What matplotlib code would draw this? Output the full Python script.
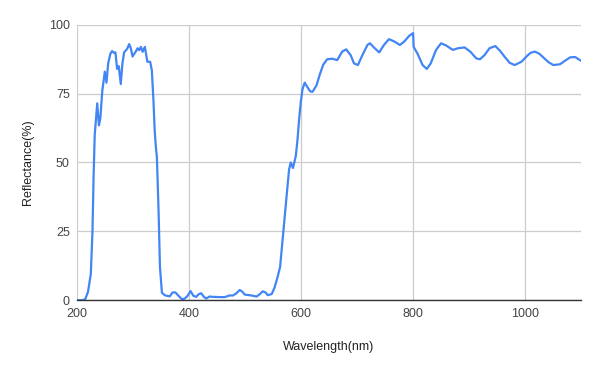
import matplotlib
matplotlib.use("Agg")
import matplotlib.pyplot as plt

plt.rcParams['font.family'] = ['Liberation Sans', 'DejaVu Sans']

# wavelength (nm) and reflectance (%)
wavelength = [200, 210, 215, 220, 225, 228, 230, 232, 234, 236.5, 239.5, 242, 245.5,
              250, 253, 256, 260, 263, 266.5, 269, 272, 275, 278.5, 281.5, 284.5,
              290, 293.5, 296.5, 299.5, 305, 308.5, 311.5, 314.5, 317.5, 321.5,
              326, 331, 334, 337, 339, 341, 343, 346, 348.5, 352, 357, 362, 366,
              371, 376, 382, 388, 393, 398, 403, 408, 413, 418, 422, 427, 431,
              437, 443, 455, 464, 473, 479, 485, 491, 496, 500, 512, 521, 527,
              532, 537, 541, 548, 553, 558, 563, 568, 574.5, 579, 582, 586, 591,
              594, 597, 600, 603, 607, 613, 617, 621, 628, 634, 640, 647, 656,
              665, 674, 681, 689, 695, 702, 710, 719, 723.5, 731, 740, 748.5,
              757.5, 766.5, 777, 785, 793.5, 800.5, 801.5, 808.5, 817.5, 825,
              832, 841.5, 850.5, 859.5, 871.5, 880.5, 892.5, 903, 913.5, 920,
              928, 937, 947.5, 956, 964, 973, 982, 994, 1003, 1010, 1018, 1026,
              1033, 1042, 1051, 1063, 1072, 1081, 1090, 1100]
reflectance = [0, 0, 0.3, 3, 9.5, 25, 45, 60, 65, 71.5, 63.5, 66, 76,
               83, 79, 86, 89.5, 90.5, 89.8, 90, 84, 85, 78.5, 86, 90,
               91.3, 93, 91.5, 88.5, 90.2, 91.5, 90.8, 92, 90.2, 92,
               86.6, 86.6, 83.5, 72, 62, 56, 52, 32.5, 12, 2.7, 1.8, 1.5, 1.4,
               2.8, 2.8, 1.5, 0.3, 0.6, 1.6, 3.3, 1.6, 1.2, 2.2, 2.5, 1.2, 0.6,
               1.3, 1.2, 1.1, 1.1, 1.7, 1.7, 2.5, 3.7, 3, 2, 1.7, 1.3, 2.2,
               3.2, 2.8, 1.8, 2.2, 4.5, 8, 12, 23, 37.7, 47.4, 50, 48, 52.3,
               58, 65.7, 72, 76.6, 79, 77, 75.8, 75.7, 78, 82, 85.5, 87.5, 87.7,
               87.2, 90.3, 91.1, 89, 86, 85.4, 89, 92.7, 93.3, 91.7, 90, 92.7,
               94.8, 94, 92.7, 94, 96, 97, 92, 89.5, 85.4, 84,
               86, 90.9, 93.3, 92.5, 90.9, 91.5, 91.8, 90.2, 87.8, 87.5,
               89, 91.5, 92.3, 90.5, 88.4, 86.2, 85.4, 86.6, 88.5, 89.8, 90.3, 89.5,
               88.2, 86.5, 85.4, 85.7, 87, 88.2, 88.3, 87]

x_ticks = [200, 400, 600, 800, 1000]
y_ticks = [0, 25, 50, 75, 100]

fig = plt.figure(figsize=(6, 3.71), dpi=100)
ax = fig.add_axes([0.128, 0.191, 0.84, 0.742])

ax.plot(wavelength, reflectance, color='#4285F4', linewidth=1.6, solid_joinstyle='round')

ax.set_xlim(200, 1100)
ax.set_ylim(0, 100)
ax.set_xticks(x_ticks)
ax.set_yticks(y_ticks)
ax.grid(True, color='#cccccc', linewidth=0.9)
ax.set_axisbelow(True)
ax.tick_params(length=0, labelsize=9, labelcolor='#444444')
ax.tick_params(axis='x', pad=6)
ax.tick_params(axis='y', pad=5)
for s in ['top', 'right', 'left']:
    ax.spines[s].set_visible(False)
ax.spines['bottom'].set_color('#333333')
ax.spines['bottom'].set_linewidth(1)

ax.set_xlabel('Wavelength(nm)', fontsize=9, color='#222222', labelpad=15)
ax.set_ylabel('Reflectance(%)', fontsize=9, color='#222222', labelpad=11)

fig.savefig('out.png', dpi=100)
